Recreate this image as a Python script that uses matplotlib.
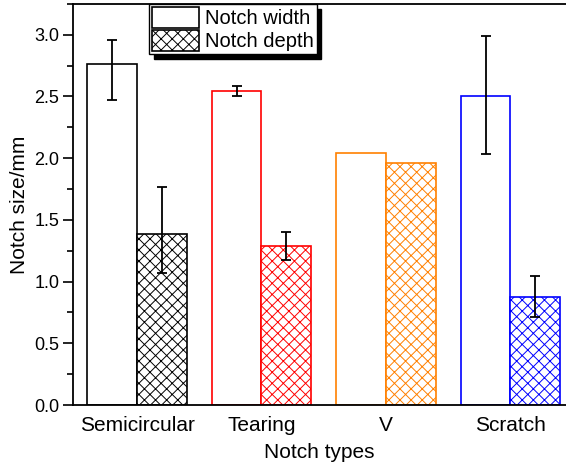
import numpy as np
import matplotlib
matplotlib.use("Agg")
from matplotlib import pyplot as plt
from matplotlib.ticker import MultipleLocator, FormatStrFormatter
from matplotlib.patches import Patch

# data
notch_types = ["Semicircular", "Tearing", "V", "Scratch"]
width_mean = [2.765, 2.543, 2.046, 2.505]
width_err_low = [0.29, 0.04, 0.0, 0.475]
width_err_high = [0.19, 0.04, 0.0, 0.485]
depth_mean = [1.386, 1.29, 1.965, 0.878]
depth_err_low = [0.313, 0.115, 0.0, 0.162]
depth_err_high = [0.384, 0.115, 0.0, 0.168]
colors = ["black", "#ff0000", "#ff8000", "#0000ff"]

plt.rcParams["font.family"] = ["Liberation Sans", "DejaVu Sans"]
plt.rcParams["hatch.linewidth"] = 0.7

fig = plt.figure(figsize=(5.66, 4.68), dpi=100)
ax = fig.add_axes([0.129, 0.1346, 0.871, 0.857])

x = np.arange(1, len(notch_types) + 1)
bw = 0.4
err_kw = dict(ecolor="black", elinewidth=1.3, capsize=3.3, capthick=1.3)

for i in range(len(notch_types)):
    ax.bar(x[i] - bw / 2, width_mean[i], bw, facecolor="white",
           edgecolor=colors[i], linewidth=1.2, zorder=2)
    ax.bar(x[i] + bw / 2, depth_mean[i], bw, facecolor="white",
           edgecolor=colors[i], linewidth=1.2, hatch="xxx", zorder=2)
    if width_err_high[i] > 0:
        ax.errorbar(x[i] - bw / 2, width_mean[i],
                    yerr=[[width_err_low[i]], [width_err_high[i]]],
                    fmt="none", zorder=3, **err_kw)
    if depth_err_high[i] > 0:
        ax.errorbar(x[i] + bw / 2, depth_mean[i],
                    yerr=[[depth_err_low[i]], [depth_err_high[i]]],
                    fmt="none", zorder=3, **err_kw)

ax.set_xlim(0.486, 4.446)
ax.set_ylim(0, 3.25)
ax.set_xticks(x)
ax.set_xticklabels(notch_types, fontsize=15)
ax.tick_params(axis="x", length=0, pad=8)
ax.yaxis.set_major_locator(MultipleLocator(0.5))
ax.yaxis.set_minor_locator(MultipleLocator(0.25))
ax.yaxis.set_major_formatter(FormatStrFormatter("%.1f"))
ax.tick_params(axis="y", which="major", length=7, width=1.2, labelsize=13, pad=3)
ax.tick_params(axis="y", which="minor", length=4, width=1.2)
for s in ["left", "bottom", "top"]:
    ax.spines[s].set_linewidth(1.3)
ax.spines["right"].set_visible(False)

ax.set_xlabel("Notch types", fontsize=15)
ax.set_ylabel("Notch size/mm", fontsize=15)
ax.xaxis.set_label_coords(0.5, -0.095)
ax.yaxis.set_label_coords(-0.089, 0.5)

handles = [Patch(facecolor="white", edgecolor="black", linewidth=1.2),
           Patch(facecolor="white", edgecolor="black", linewidth=1.2, hatch="xxx")]
leg = ax.legend(handles, ["Notch width", "Notch depth"], loc="upper left",
                bbox_to_anchor=(0.155, 1.0), fontsize=14.5, frameon=True,
                fancybox=False, shadow={"color": "black", "alpha": 1, "ox": 3.5, "oy": -3.5},
                handlelength=2.3, handleheight=1.2, labelspacing=0.1,
                borderpad=0.15, handletextpad=0.3, borderaxespad=0.0)
leg.get_frame().set_edgecolor("black")
leg.get_frame().set_linewidth(1.0)

fig.savefig("out.png", dpi=100)
